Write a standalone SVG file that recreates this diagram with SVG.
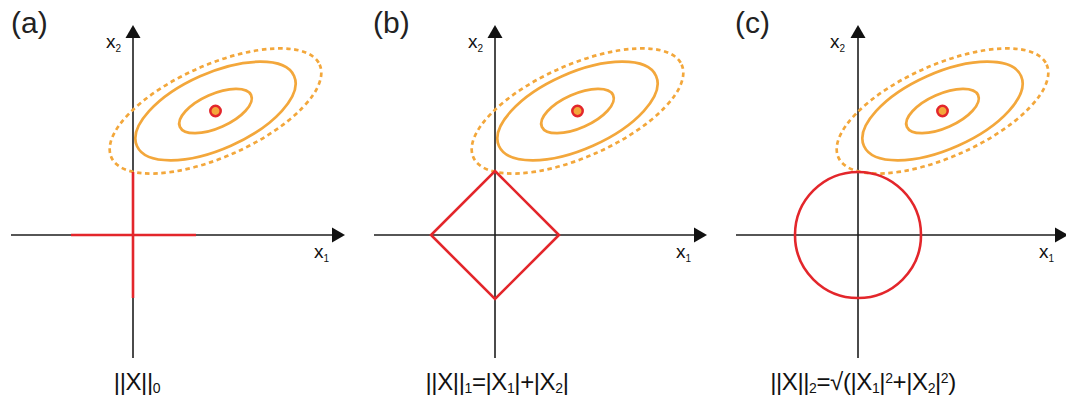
<svg xmlns="http://www.w3.org/2000/svg" width="1066" height="399" viewBox="0 0 1066 399">
<style>
.ax{stroke:#1e1e1e;stroke-width:1.6;fill:none}
.ah{fill:#111}
.ell{fill:none;stroke:#F3A73B;stroke-width:2.7}
.dash{stroke-dasharray:4.5 3.6}
.red{fill:none;stroke:#E3262B;stroke-width:2.6}
.dot{fill:#F3A73B;stroke:#E3262B;stroke-width:2.5}
.ttl{font-family:"Liberation Sans",Arial,sans-serif;font-size:30px;fill:#222}
.axl{font-family:"Liberation Sans",Arial,sans-serif;font-size:19px;fill:#111}
.sub{font-size:10px}
.lbl{font-family:"Liberation Sans",Arial,sans-serif;font-size:24px;letter-spacing:-0.4px;fill:#111;text-anchor:middle}
.s{font-size:14px}
</style>
<defs>
<g id="contours">
<ellipse class="ell dash" cx="0" cy="0" rx="114" ry="46" transform="rotate(-24)"/>
<ellipse class="ell" cx="0" cy="0" rx="86" ry="38" transform="rotate(-24)"/>
<ellipse class="ell" cx="0" cy="0" rx="39" ry="17" transform="rotate(-24)"/>
<circle class="dot" cx="0" cy="0" r="5.2"/>
</g>
</defs>

<g id="connectors">
<line class="ax" x1="11" y1="235" x2="334" y2="235"/>
<polygon class="ah" points="345,235 332,227.5 332,242.5"/>
<line class="ax" x1="133" y1="358" x2="133" y2="36"/>
<polygon class="ah" points="133,25 125.5,38 140.5,38"/>
<line class="ax" x1="374" y1="235" x2="696" y2="235"/>
<polygon class="ah" points="707,235 694,227.5 694,242.5"/>
<line class="ax" x1="495" y1="358" x2="495" y2="36"/>
<polygon class="ah" points="495,25 487.5,38 502.5,38"/>
<line class="ax" x1="736" y1="235" x2="1057" y2="235"/>
<polygon class="ah" points="1068,235 1055,227.5 1055,242.5"/>
<line class="ax" x1="858" y1="358" x2="858" y2="36"/>
<polygon class="ah" points="858,25 850.5,38 865.5,38"/>
</g>

<g id="panel-a">
<text class="ttl" x="11" y="33">(a)</text>
<text class="axl" x="106" y="48">x<tspan class="sub" dy="4">2</tspan></text>
<text class="axl" x="314" y="258">x<tspan class="sub" dy="4">1</tspan></text>
<use href="#contours" x="215.5" y="111"/>
<line class="red" x1="71" y1="235" x2="196" y2="235"/>
<line class="red" x1="133" y1="172" x2="133" y2="298"/>
<text class="lbl" x="137" y="390">||X||<tspan class="s" dy="3">0</tspan></text>
</g>

<g id="panel-b">
<text class="ttl" x="373" y="33">(b)</text>
<text class="axl" x="468" y="48">x<tspan class="sub" dy="4">2</tspan></text>
<text class="axl" x="676" y="258">x<tspan class="sub" dy="4">1</tspan></text>
<use href="#contours" x="577.5" y="111"/>
<polygon class="red" points="495,171 559,235 495,299 431,235"/>
<text class="lbl" x="497" y="390">||X||<tspan class="s" dy="3">1</tspan><tspan dy="-3">=|X</tspan><tspan class="s" dy="3">1</tspan><tspan dy="-3">|+|X</tspan><tspan class="s" dy="3">2</tspan><tspan dy="-3">|</tspan></text>
</g>

<g id="panel-c">
<text class="ttl" x="735" y="33">(c)</text>
<text class="axl" x="830" y="48">x<tspan class="sub" dy="4">2</tspan></text>
<text class="axl" x="1039" y="258">x<tspan class="sub" dy="4">1</tspan></text>
<use href="#contours" x="942.5" y="111"/>
<circle class="red" cx="858" cy="235" r="63"/>
<text class="lbl" x="863" y="390">||X||<tspan class="s" dy="3">2</tspan><tspan dy="-3">=√(|X</tspan><tspan class="s" dy="3">1</tspan><tspan dy="-3">|</tspan><tspan class="s" dy="-7">2</tspan><tspan dy="7">+|X</tspan><tspan class="s" dy="3">2</tspan><tspan dy="-3">|</tspan><tspan class="s" dy="-7">2</tspan><tspan dy="7">)</tspan></text>
</g>
</svg>
